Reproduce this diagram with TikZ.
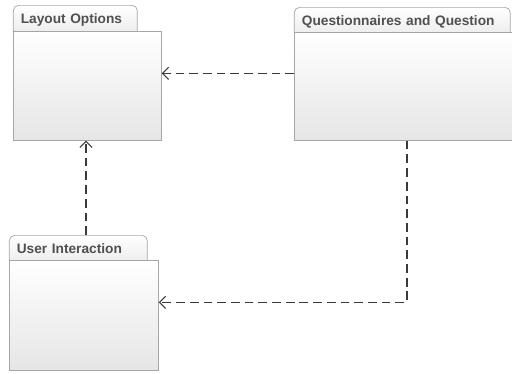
\documentclass[tikz,border=0pt]{standalone}
\usepackage{fontspec}
\setmainfont{Liberation Sans}
\usetikzlibrary{arrows.meta,positioning}

\definecolor{pkgline}{HTML}{A6A6A6}
\definecolor{pkgtext}{HTML}{505050}
\definecolor{depline}{HTML}{3A3A3A}

\tikzset{
  pkgtab/.style={draw=pkgline,rounded corners=3pt,top color=white,bottom color=black!8,
    anchor=north west,minimum height=0.6cm,inner xsep=0.15cm,text width=#1,
    text height=0.2cm,text depth=0.08cm,font=\fontsize{7.8}{9}\selectfont\bfseries,
    text=pkgtext,align=left},
  pkgbody/.style={draw=pkgline,top color=white,bottom color=black!10,anchor=north west},
  dep/.style={depline,semithick,dash pattern=on 5pt off 2.8pt,-{Straight Barb[length=3.5pt,width=7pt]}}
}

\begin{document}
\begin{tikzpicture}[x=0.02cm,y=-0.02cm]
   \useasboundingbox (0,0) rectangle (512,373);
   \clip (0,0) rectangle (512,373);
   \node[pkgtab=2.18cm] (layout tab) at (13,5) {Layout Options};
   \node[pkgtab=4.02cm] (quest tab) at (294,7) {Questionnaires and Question};
   \node[pkgtab=2.46cm] (user tab) at (9,235) {User Interaction};
   \node[pkgbody,minimum width=2.96cm,minimum height=2.18cm] (layout) at (13,31) {};
   \node[pkgbody,minimum width=4.8cm,minimum height=2.16cm] (quest) at (294,32) {};
   \node[pkgbody,minimum width=2.98cm,minimum height=2.2cm] (user) at (9,260) {};
   \coordinate (layout in) at ([xshift=1.46cm]layout.south west);
   \draw[dep] ([yshift=0.26cm]quest.west) -- ([yshift=0.26cm]quest.west -| layout.east);
   \draw[dep] ([xshift=2.26cm]quest.south west) |- ([yshift=0.26cm]user.east);
   \draw[dep] (layout in |- user tab.north) -- (layout in);
\end{tikzpicture}
\end{document}
